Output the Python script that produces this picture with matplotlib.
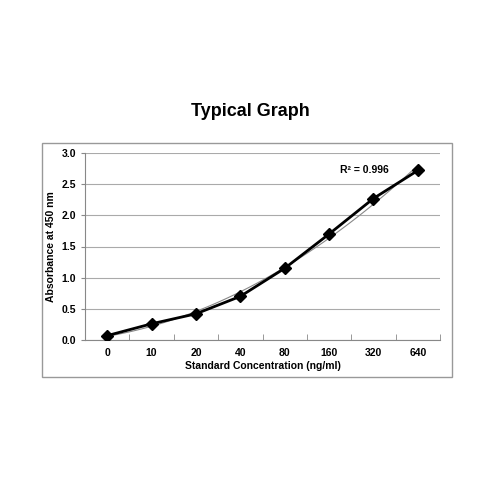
import matplotlib.pyplot as plt
import numpy as np
from matplotlib.patches import Rectangle

concentrations = ["0", "10", "20", "40", "80", "160", "320", "640"]
absorbance = [0.07, 0.26, 0.42, 0.70, 1.15, 1.70, 2.27, 2.72]
r_squared = "R² = 0.996"

plt.rcParams['font.family'] = ['Liberation Sans', 'DejaVu Sans']
plt.rcParams['font.weight'] = 'bold'

fig = plt.figure(figsize=(5, 5), dpi=100)
fig.patches.append(Rectangle((42/500, 1-377/500), 410/500, 234/500, transform=fig.transFigure,
                             fill=False, edgecolor='#999999', linewidth=1))
fig.text(0.5, 1-112/500, "Typical Graph", ha='center', va='center', fontsize=13, fontweight='bold')

ax = fig.add_axes([0.17, 0.32, 0.71, 0.374])
x = np.arange(len(concentrations))

# Trendlinie (Polynom 2. Grades)
koeff = np.polyfit(x, absorbance, 2)
xs = np.linspace(0, len(x) - 1, 100)
ax.plot(xs, np.polyval(koeff, xs), color='#888888', linewidth=0.8, zorder=2)
ax.plot(x, absorbance, color='black', linewidth=2, marker='D', markersize=6, zorder=3)

ax.set_xlim(-0.5, len(x) - 0.5)
ax.set_ylim(0, 3.0)
ax.set_yticks(np.arange(0, 3.01, 0.5))
ax.set_yticklabels([f"{v:.1f}" for v in np.arange(0, 3.01, 0.5)])
ax.set_xticks(x)
ax.set_xticklabels(concentrations)
ax.set_xticks(np.arange(-0.5, len(x), 1), minor=True)
ax.tick_params(axis='x', which='major', length=0, labelsize=7.5, pad=6)
ax.tick_params(axis='x', which='minor', length=4, direction='in', color='#888888')
ax.tick_params(axis='y', length=3, labelsize=7.5, color='#888888')
ax.grid(axis='y', color='#aaaaaa', linewidth=0.8)
ax.set_axisbelow(True)
for s in ['top', 'right']:
    ax.spines[s].set_visible(False)
for s in ['left', 'bottom']:
    ax.spines[s].set_color('#888888')

ax.set_xlabel("Standard Concentration (ng/ml)", fontsize=7.5, fontweight='bold', labelpad=2)
ax.set_ylabel("Absorbance at 450 nm", fontsize=7.5, fontweight='bold', labelpad=4)
ax.text(5.25, 2.72, r_squared, fontsize=7.5, fontweight='bold', va='center')

fig.savefig("out.png")
